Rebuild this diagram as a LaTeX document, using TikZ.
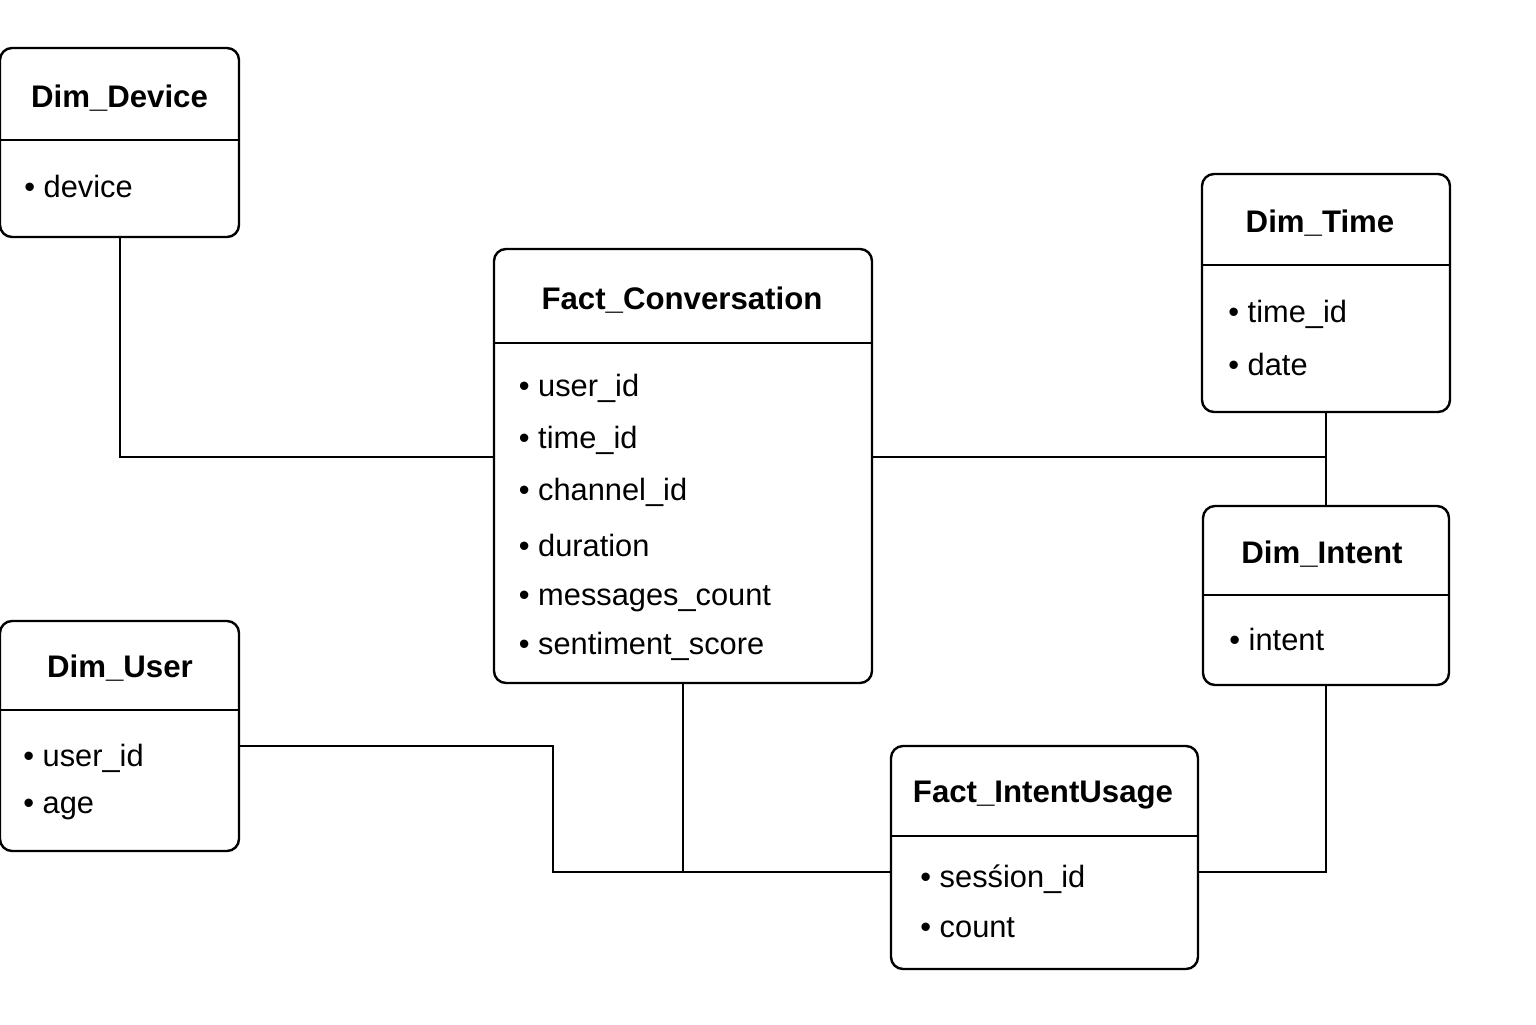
\documentclass[tikz,border=0pt]{standalone}
\usepackage{fontspec}
\setmainfont{Liberation Sans}
\usetikzlibrary{positioning}
\tikzset{entity/.style 2 args={draw,rounded corners=6pt,line width=1.2pt,minimum width=#1*0.5pt,minimum height=#2*0.5pt,inner sep=0pt}}
\tikzset{ttl/.style={anchor=base,inner sep=0pt,font=\fontsize{15.6}{18}\selectfont\bfseries}}
\tikzset{itm/.style={anchor=base west,inner sep=0pt,font=\fontsize{15.4}{18}\selectfont}}
\tikzset{link/.style={line width=1pt}}

\begin{document}
\begin{tikzpicture}[x=0.5pt,y=-0.5pt]
\useasboundingbox (0,0) rectangle (1536,1024);
% boxes
\node[entity={239}{189}] (dev) at (119.5,142.5) {};
\node[entity={378}{434}] (fc) at (683,466) {};
\node[entity={248}{238}] (tim) at (1326,293) {};
\node[entity={246}{179}] (int) at (1326,595.5) {};
\node[entity={239}{230}] (usr) at (119.5,736) {};
\node[entity={307}{223}] (fiu) at (1044.5,857.5) {};
% dividers
\draw[line width=1.2pt](0,140)--(239,140);
\draw[line width=1.2pt](494,343)--(872,343);
\draw[line width=1.2pt](1202,265)--(1450,265);
\draw[line width=1.2pt](1203,595)--(1449,595);
\draw[line width=1.2pt](0,710)--(239,710);
\draw[line width=1.2pt](891,836)--(1198,836);
% titles
\node[ttl] (devt) at (119.5,107.5) {Dim\_Device};
\node[ttl] (fct) at (682,309.5) {Fact\_Conversation};
\node[ttl] (timt) at (1320,232.5) {Dim\_Time};
\node[ttl] (intt) at (1322,563.5) {Dim\_Intent};
\node[ttl] (usrt) at (120,677.5) {Dim\_User};
\node[ttl] (fiut) at (1043,802.5) {Fact\_IntentUsage};
% attributes
\node[itm] (devi) at (24,197) {• device};
\foreach \t/\y [count=\i] in {user\_id/396,time\_id/448,channel\_id/500,duration/556,messages\_count/605,sentiment\_score/654}
\node[itm] (fci\i) at (518.5,\y) {• \t};
\foreach \t/\y [count=\i] in {time\_id/322,date/375}
\node[itm] (timi\i) at (1228,\y) {• \t};
\node[itm] (inti) at (1229,650) {• intent};
\foreach \t/\y [count=\i] in {user\_id/766,age/813}
\node[itm] (usri\i) at (23,\y) {• \t};
\foreach \t/\y [count=\i] in {sesśion\_id/887,count/937}
\node[itm] (fiui\i) at (920,\y) {• \t};
% connectors
\coordinate (tj) at (1326,457);
\coordinate (uj) at (553,746);
\coordinate (bj) at (683,872);
\draw[link](dev.south)|-(fc.west|-tj);
\draw[link](fc.east|-tj)--(tj);
\draw[link](tim.south)--(int.north);
\draw[link](usr.east|-uj)--(uj)|-(bj)--(fiu.west|-bj);
\draw[link](fc.south)--(bj);
\draw[link](fiu.east|-bj)-|(int.south);
\end{tikzpicture}
\end{document}
